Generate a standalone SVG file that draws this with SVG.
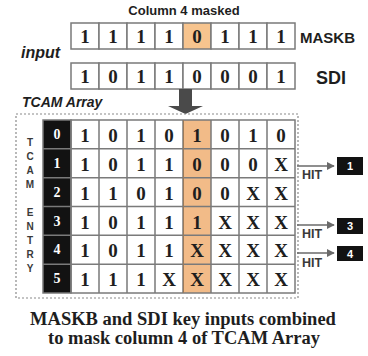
<svg xmlns="http://www.w3.org/2000/svg" width="368" height="356" viewBox="0 0 368 356">
  <defs>
    <style>
      .cell { fill: #ffffff; stroke: #7a7a7a; stroke-width: 1.5; }
      .mask { fill: #f7c48e; stroke: #7a7a7a; stroke-width: 1.5; }
      .key { fill: #121212; stroke: #7a7a7a; stroke-width: 1.5; }
      .bit { font-family: "Liberation Serif", "Times New Roman", serif; font-weight: bold; font-size: 19px; fill: #1e1e1e; text-anchor: middle; }
      .idx { font-family: "Liberation Serif", "Times New Roman", serif; font-weight: bold; font-size: 14px; fill: #ffffff; text-anchor: middle; }
      .lbl { font-family: "Liberation Sans", Arial, sans-serif; font-weight: bold; fill: #1e1e1e; }
      .ital { font-family: "Liberation Sans", Arial, sans-serif; font-weight: bold; font-style: italic; fill: #1e1e1e; }
      .vert { font-family: "Liberation Sans", Arial, sans-serif; font-weight: bold; font-size: 10px; fill: #3a3a3a; text-anchor: middle; }
      .hit { font-family: "Liberation Sans", Arial, sans-serif; font-weight: bold; font-size: 12.5px; fill: #3a3a3a; }
      .out { fill: #121212; }
      .outnum { font-family: "Liberation Sans", Arial, sans-serif; font-weight: bold; font-size: 11px; fill: #ffffff; text-anchor: middle; }
      .cap { font-family: "Liberation Serif", "Times New Roman", serif; font-weight: bold; font-size: 18.5px; fill: #1e1e1e; text-anchor: middle; }
      .link { stroke: #6a6a6a; stroke-width: 1.5; fill: none; }
    </style>
    <marker id="tip" viewBox="0 0 10 10" refX="9" refY="5" markerWidth="8" markerHeight="8" markerUnits="userSpaceOnUse" orient="auto">
      <path d="M0,0 L10,5 L0,10 z" fill="#6a6a6a"/>
    </marker>
  </defs>

  <rect width="368" height="356" fill="#ffffff"/>

  <!-- key input registers -->
  <g id="inputs">
    <text class="lbl" x="184" y="15" font-size="13" text-anchor="middle">Column 4 masked</text>
    <text class="ital" x="21" y="58" font-size="16">input</text>

    <g id="maskb">
      <rect class="cell" x="71" y="23" width="28" height="26"/>
      <rect class="cell" x="99" y="23" width="28" height="26"/>
      <rect class="cell" x="127" y="23" width="28" height="26"/>
      <rect class="cell" x="155" y="23" width="28" height="26"/>
      <rect class="mask" x="183" y="23" width="28" height="26"/>
      <rect class="cell" x="211" y="23" width="28" height="26"/>
      <rect class="cell" x="239" y="23" width="28" height="26"/>
      <rect class="cell" x="267" y="23" width="28" height="26"/>
      <text class="bit" y="42.5"><tspan x="85">1</tspan><tspan x="113">1</tspan><tspan x="141">1</tspan><tspan x="169">1</tspan><tspan x="197">0</tspan><tspan x="225">1</tspan><tspan x="253">1</tspan><tspan x="281">1</tspan></text>
      <text class="lbl" x="300" y="43" font-size="15">MASKB</text>
    </g>

    <g id="sdi">
      <rect class="cell" x="71" y="63" width="28" height="26"/>
      <rect class="cell" x="99" y="63" width="28" height="26"/>
      <rect class="cell" x="127" y="63" width="28" height="26"/>
      <rect class="cell" x="155" y="63" width="28" height="26"/>
      <rect class="cell" x="183" y="63" width="28" height="26"/>
      <rect class="cell" x="211" y="63" width="28" height="26"/>
      <rect class="cell" x="239" y="63" width="28" height="26"/>
      <rect class="cell" x="267" y="63" width="28" height="26"/>
      <text class="bit" y="82.5"><tspan x="85">1</tspan><tspan x="113">0</tspan><tspan x="141">1</tspan><tspan x="169">1</tspan><tspan x="197">0</tspan><tspan x="225">0</tspan><tspan x="253">0</tspan><tspan x="281">1</tspan></text>
      <text class="lbl" x="316" y="84" font-size="18">SDI</text>
    </g>
  </g>

  <!-- block arrow feeding the key into the array -->
  <g id="key-arrow">
    <path d="M179,89 L192,89 L192,106 L203,106 L185.5,114 L168,106 L179,106 z" fill="#4a4a4a"/>
  </g>

  <!-- TCAM array -->
  <g id="tcam">
    <text class="ital" x="22" y="107" font-size="14">TCAM Array</text>
    <rect x="16" y="114" width="282" height="184" fill="none" stroke="#8a8a8a" stroke-width="1.2" stroke-dasharray="2,2"/>

    <text class="vert"><tspan x="30" y="146">T</tspan><tspan x="30" y="160">C</tspan><tspan x="30" y="174">A</tspan><tspan x="30" y="188">M</tspan><tspan x="30" y="216">E</tspan><tspan x="30" y="230">N</tspan><tspan x="30" y="244">T</tspan><tspan x="30" y="258">R</tspan><tspan x="30" y="272">Y</tspan></text>

    <!-- masked column background -->
    <rect x="183" y="120" width="28" height="173" fill="#f2bb88"/>
    <!-- entry index column -->
    <rect class="key" x="43" y="120" width="28" height="173"/>

    <!-- grid lines -->
    <g stroke="#7a7a7a" stroke-width="1.5" fill="none">
      <rect x="71" y="120" width="224" height="173"/>
      <path d="M99,120 V293 M127,120 V293 M155,120 V293 M183,120 V293 M211,120 V293 M239,120 V293 M267,120 V293"/>
      <path d="M43,148.8 H295 M43,177.7 H295 M43,206.5 H295 M43,235.3 H295 M43,264.2 H295"/>
    </g>
    <path d="M183.5,120 V293" stroke="#9a7a5a" stroke-width="1"/>

    <g id="row0">
      <text class="idx" x="57" y="139">0</text>
      <text class="bit" y="141.5"><tspan x="85">1</tspan><tspan x="113">0</tspan><tspan x="141">1</tspan><tspan x="169">0</tspan><tspan x="197">1</tspan><tspan x="225">0</tspan><tspan x="253">1</tspan><tspan x="281">0</tspan></text>
    </g>
    <g id="row1">
      <text class="idx" x="57" y="168">1</text>
      <text class="bit" y="170.5"><tspan x="85">1</tspan><tspan x="113">0</tspan><tspan x="141">1</tspan><tspan x="169">1</tspan><tspan x="197">0</tspan><tspan x="225">0</tspan><tspan x="253">0</tspan><tspan x="281">X</tspan></text>
    </g>
    <g id="row2">
      <text class="idx" x="57" y="197">2</text>
      <text class="bit" y="199.5"><tspan x="85">1</tspan><tspan x="113">1</tspan><tspan x="141">0</tspan><tspan x="169">1</tspan><tspan x="197">0</tspan><tspan x="225">0</tspan><tspan x="253">X</tspan><tspan x="281">X</tspan></text>
    </g>
    <g id="row3">
      <text class="idx" x="57" y="226">3</text>
      <text class="bit" y="228.5"><tspan x="85">1</tspan><tspan x="113">0</tspan><tspan x="141">1</tspan><tspan x="169">1</tspan><tspan x="197">1</tspan><tspan x="225">X</tspan><tspan x="253">X</tspan><tspan x="281">X</tspan></text>
    </g>
    <g id="row4">
      <text class="idx" x="57" y="254">4</text>
      <text class="bit" y="256.5"><tspan x="85">1</tspan><tspan x="113">0</tspan><tspan x="141">1</tspan><tspan x="169">1</tspan><tspan x="197">X</tspan><tspan x="225">X</tspan><tspan x="253">X</tspan><tspan x="281">X</tspan></text>
    </g>
    <g id="row5">
      <text class="idx" x="57" y="283">5</text>
      <text class="bit" y="285.5"><tspan x="85">1</tspan><tspan x="113">1</tspan><tspan x="141">1</tspan><tspan x="169">X</tspan><tspan x="197">X</tspan><tspan x="225">X</tspan><tspan x="253">X</tspan><tspan x="281">X</tspan></text>
    </g>
  </g>

  <!-- match outputs -->
  <g id="connectors">
    <line class="link" x1="297" y1="166" x2="334" y2="166" marker-end="url(#tip)"/>
    <line class="link" x1="297" y1="225" x2="334" y2="225" marker-end="url(#tip)"/>
    <line class="link" x1="297" y1="253" x2="334" y2="253" marker-end="url(#tip)"/>
  </g>
  <g id="hit1">
    <text class="hit" x="302" y="179">HIT</text>
    <rect class="out" x="337" y="157" width="26" height="18"/>
    <text class="outnum" x="350" y="170">1</text>
  </g>
  <g id="hit3">
    <text class="hit" x="302" y="238">HIT</text>
    <rect class="out" x="337" y="218" width="26" height="16"/>
    <text class="outnum" x="350" y="230">3</text>
  </g>
  <g id="hit4">
    <text class="hit" x="302" y="267">HIT</text>
    <rect class="out" x="337" y="246" width="26" height="15"/>
    <text class="outnum" x="350" y="258">4</text>
  </g>

  <!-- caption -->
  <text class="cap" x="183" y="325">MASKB and SDI key inputs combined</text>
  <text class="cap" x="184" y="344">to mask column 4 of TCAM Array</text>
</svg>
